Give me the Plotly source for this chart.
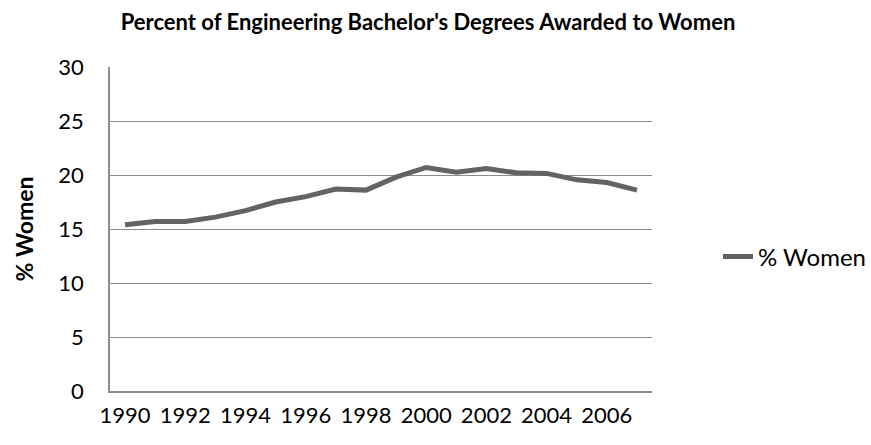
import plotly.graph_objects as go

years = [str(y) for y in range(1990, 2008)]
pct_women = [15.4, 15.7, 15.7, 16.1, 16.7, 17.5, 18.0, 18.7, 18.6, 19.8, 20.7, 20.25, 20.6, 20.2, 20.15, 19.55, 19.3, 18.6]
tick_labels = [str(y) for y in range(1990, 2008, 2)]

FONT = "Lato, Liberation Sans, sans-serif"

fig = go.Figure()
fig.add_trace(go.Scatter(
    x=years, y=pct_women, mode="lines", name="% Women",
    line=dict(color="#636363", width=5),
))

fig.update_layout(
    width=871, height=445,
    paper_bgcolor="white", plot_bgcolor="white",
    margin=dict(l=110, r=219, t=67, b=54, autoexpand=False),
    font=dict(family=FONT, color="#000000"),
    title=dict(text="<b>Percent of Engineering Bachelor's Degrees Awarded to Women</b>",
               x=428 / 871, xanchor="center", xref="container", y=0.95, yanchor="middle",
               font=dict(size=22, family=FONT)),
    showlegend=True,
    legend=dict(x=(718 - 110) / 542, xanchor="left", y=(391 - 257) / 324, yanchor="middle",
                font=dict(size=24), bgcolor="rgba(0,0,0,0)"),
)
fig.update_xaxes(
    type="category", tickmode="array", tickvals=tick_labels, ticktext=tick_labels,
    range=[-0.5, len(years) - 0.5],
    showline=True, linecolor="#8c8c8c", linewidth=1.5, showgrid=False,
    ticks="", tickfont=dict(size=22), ticklabelstandoff=4,
)
fig.update_yaxes(
    range=[0, 30], dtick=5, tick0=0,
    showline=True, linecolor="#8c8c8c", linewidth=1.5,
    showgrid=True, gridcolor="#8c8c8c", gridwidth=1.2,
    ticks="", tickfont=dict(size=22), ticklabelstandoff=20,
    zeroline=False,
    title=dict(text="<b>% Women</b>", font=dict(size=23), standoff=18),
)

fig.write_html("out.html", config={"displayModeBar": False})
with open("out.html", "r", encoding="utf-8") as f:
    html = f.read()
html = html.replace("<body>", '<body style="margin:0;padding:0;">', 1)
html = html.replace("<head>", '<head><style>html,body{margin:0;padding:0;}</style>', 1)
with open("out.html", "w", encoding="utf-8") as f:
    f.write(html)
